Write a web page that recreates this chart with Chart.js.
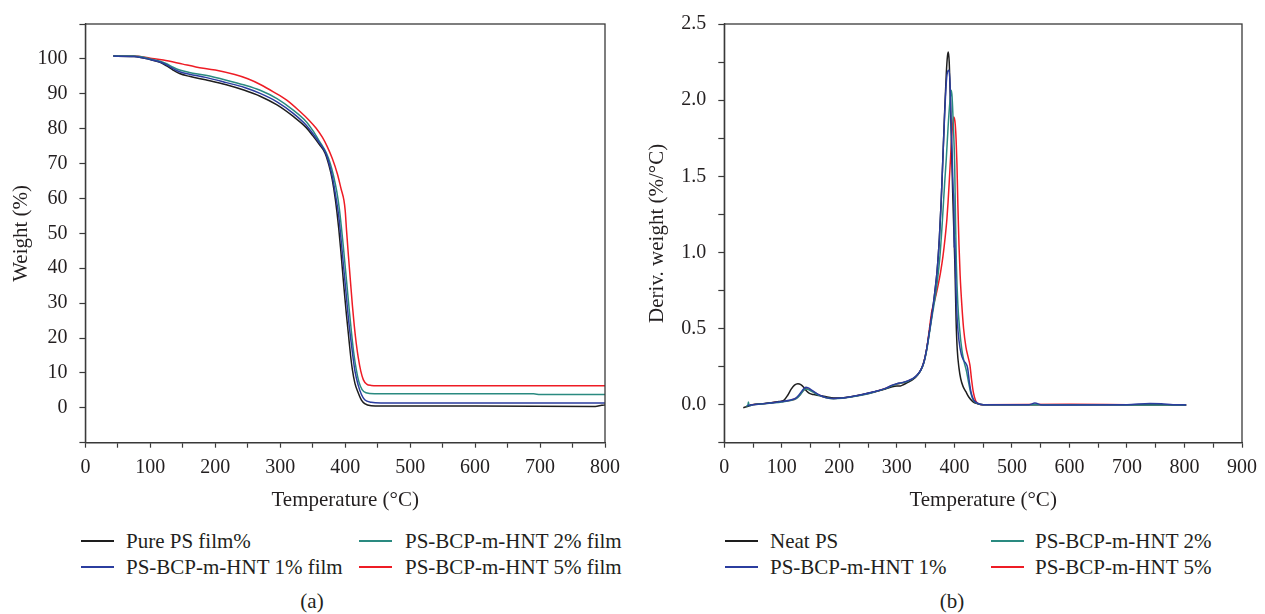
<!DOCTYPE html>
<html>
<head>
<meta charset="utf-8">
<script src="https://cdn.jsdelivr.net/npm/chart.js@4.4.1/dist/chart.umd.min.js"></script>
<style>
  html,body{margin:0;padding:0;background:#fff;}
  body{width:1265px;height:614px;position:relative;overflow:hidden;font-family:"Liberation Serif","DejaVu Serif",serif;color:#231f20;}
  canvas{position:absolute;top:0;}
  #c1{left:0;}
  #c2{left:630px;}
  .leg{position:absolute;height:24px;display:flex;align-items:center;font-size:21px;white-space:nowrap;}
  .leg .ln{position:absolute;height:2px;top:11px;}
  .cap{position:absolute;font-size:21px;transform:translateX(-50%);white-space:nowrap;}
</style>
</head>
<body>
<canvas id="c1" width="630" height="517"></canvas>
<canvas id="c2" width="635" height="517"></canvas>
<script>
// ---------- TGA (a): [temperature °C, weight %] ----------
const tgaPurePS = [[43,100.8],[75,100.7],[100,99.8],[115,99.0],[125,98.0],[135,96.8],[145,95.8],[160,95.0],[185,94.0],[217,92.6],[245,91.0],[269,89.3],[295,86.8],[320,83.5],[340,80.3],[350,78.0],[360,75.5],[369,73.0],[375,69.5],[380,65.5],[385,59.5],[390,51.5],[393,45.5],[396,39],[399,32.5],[402,26.5],[405,21],[408,15.5],[411,11],[415,7],[420,4.3],[425,2.2],[430,1.2],[440,0.6],[455,0.5],[600,0.5],[785,0.4],[795,0.7],[800,0.8]];
const tgaHNT1 = [[43,100.8],[75,100.7],[100,99.8],[115,99.1],[125,98.3],[135,97.2],[145,96.3],[160,95.6],[185,94.7],[217,93.2],[245,91.8],[269,90.1],[295,87.7],[320,84.4],[340,81.0],[350,78.6],[360,76.0],[370,73.0],[376,69.5],[381,65.5],[386,60],[390,55],[393,49.5],[396,43.5],[399,37.5],[402,31.5],[405,25.5],[409,19],[412,14.5],[415,10.5],[420,6.5],[425,3.8],[430,2.3],[440,1.6],[455,1.4],[800,1.4]];
const tgaHNT2 = [[43,100.8],[75,100.8],[100,100.0],[115,99.3],[125,98.6],[135,97.6],[145,96.8],[160,96.1],[185,95.3],[217,93.9],[245,92.5],[269,91.0],[295,88.6],[320,85.3],[340,82.0],[350,79.5],[360,76.5],[371,73.0],[377,70],[382,66.5],[387,62],[391,57],[394,52],[397,46.5],[400,40.5],[403,34.5],[406,28.5],[410,21],[413,16],[417,11],[421,7.5],[426,5.2],[432,4.3],[445,4.0],[690,4.0],[700,3.8],[800,3.8]];
const tgaHNT5 = [[43,100.8],[75,100.8],[100,100.2],[120,99.7],[150,98.5],[170,97.7],[200,96.8],[230,95.5],[250,94.3],[270,92.6],[290,90.5],[310,88.2],[330,85.0],[345,82.3],[355,80.2],[365,77.5],[372,75],[380,71.5],[388,67],[394,62.5],[398,59.5],[400,56.5],[402,51],[405,43.5],[408,36.5],[411,29.5],[414,23.5],[417,18.5],[420,14.5],[424,10.5],[428,8],[433,6.8],[440,6.4],[450,6.3],[800,6.3]];

// ---------- DTG (b): [temperature °C, deriv. weight %/°C] ----------
const dtgNeatPS = [[33,-0.02],[40,-0.012],[50,0.0],[65,0.006],[80,0.012],[95,0.02],[104,0.03],[110,0.06],[116,0.1],[122,0.128],[128,0.137],[133,0.132],[138,0.115],[143,0.09],[148,0.074],[155,0.066],[165,0.06],[177,0.052],[190,0.043],[205,0.044],[220,0.052],[240,0.066],[260,0.083],[280,0.103],[292,0.117],[300,0.122],[306,0.123],[312,0.132],[320,0.148],[328,0.165],[336,0.195],[342,0.23],[347,0.28],[352,0.37],[357,0.49],[362,0.62],[366,0.74],[370,0.88],[374,1.1],[377,1.33],[380,1.62],[383,1.92],[386,2.18],[388,2.29],[389.5,2.316],[391,2.25],[393,2.0],[395,1.7],[397,1.4],[399,1.15],[401,0.9],[403,0.55],[405,0.36],[408,0.24],[411,0.17],[415,0.12],[420,0.085],[425,0.05],[432,0.02],[440,0.006],[450,0.0],[500,0.0],[600,0.0],[700,0.0],[803,-0.002]];
const dtgHNT1 = [[40,-0.005],[50,0.0],[65,0.005],[80,0.011],[100,0.02],[115,0.03],[125,0.045],[130,0.065],[135,0.09],[139,0.108],[142,0.115],[146,0.11],[152,0.095],[160,0.075],[168,0.058],[177,0.046],[190,0.04],[205,0.043],[220,0.052],[240,0.066],[260,0.084],[280,0.107],[292,0.128],[300,0.138],[306,0.143],[312,0.148],[320,0.158],[328,0.172],[336,0.198],[342,0.23],[347,0.28],[352,0.37],[357,0.49],[362,0.62],[366,0.74],[370,0.88],[374,1.1],[377,1.33],[380,1.62],[383,1.9],[386,2.12],[388.5,2.19],[391,2.196],[392.5,2.1],[394,1.9],[396,1.65],[398,1.4],[399.3,1.28],[399.6,1.03],[400.5,1.1],[401.5,0.95],[403,0.72],[405,0.55],[408,0.42],[412,0.33],[416,0.29],[420,0.27],[423,0.24],[426,0.15],[429,0.08],[433,0.035],[440,0.01],[450,0.0],[530,0.0],[540,0.01],[550,0.0],[560,-0.002],[700,0.0],[740,0.008],[760,0.006],[780,0.0],[803,-0.002]];
const dtgHNT2 = [[38,-0.01],[41,-0.005],[42,0.018],[43,-0.008],[50,0.0],[65,0.004],[80,0.01],[100,0.018],[115,0.027],[125,0.04],[131,0.06],[136,0.085],[140,0.1],[143,0.103],[147,0.098],[153,0.085],[160,0.07],[168,0.056],[177,0.045],[190,0.039],[205,0.042],[220,0.05],[240,0.064],[260,0.082],[280,0.105],[292,0.125],[300,0.135],[306,0.14],[312,0.145],[320,0.155],[328,0.17],[336,0.196],[342,0.228],[347,0.275],[352,0.36],[357,0.48],[362,0.6],[366,0.69],[370,0.8],[375,0.98],[379,1.2],[383,1.45],[386,1.62],[389,1.82],[392,1.98],[394.7,2.065],[396,2.02],[398,1.85],[400.5,1.575],[402,1.2],[403.5,0.92],[406,0.66],[409,0.5],[413,0.36],[417,0.28],[421,0.22],[425,0.14],[429,0.07],[433,0.03],[440,0.008],[450,0.0],[600,0.0],[700,-0.002],[803,-0.003]];
const dtgHNT5 = [[45,0.0],[65,0.005],[80,0.011],[100,0.02],[115,0.028],[125,0.042],[131,0.062],[136,0.088],[140,0.1],[143,0.104],[147,0.1],[153,0.088],[160,0.072],[168,0.057],[177,0.046],[190,0.04],[205,0.043],[220,0.051],[240,0.065],[260,0.083],[280,0.106],[292,0.126],[300,0.136],[306,0.141],[312,0.146],[320,0.156],[328,0.17],[336,0.197],[342,0.23],[347,0.28],[352,0.37],[356,0.48],[359,0.57],[361,0.62],[364,0.66],[368,0.72],[372,0.79],[376,0.87],[380,0.97],[384,1.1],[387,1.22],[389,1.33],[391,1.46],[393,1.6],[395,1.74],[397,1.84],[398.7,1.89],[400,1.88],[401.5,1.84],[403,1.74],[404.5,1.575],[406,1.32],[408,1.05],[410,0.85],[413,0.65],[416,0.5],[420,0.38],[424,0.31],[427,0.26],[430,0.16],[433,0.08],[437,0.025],[442,0.005],[450,0.0],[600,0.002],[700,0.0],[803,-0.002]];

// ---------- labels ----------
const tgaLabels = ['Pure PS film%','PS-BCP-m-HNT 1% film','PS-BCP-m-HNT 2% film','PS-BCP-m-HNT 5% film'];
const dtgLabels = ['Neat PS','PS-BCP-m-HNT 1%','PS-BCP-m-HNT 2%','PS-BCP-m-HNT 5%'];
const xTitle = 'Temperature (°C)';
const yTitleA = 'Weight (%)';
const yTitleB = 'Deriv. weight (%/°C)';

const COLORS = ['#1e1e1e','#2b3d9f','#2a8a80','#ee1c25'];
const DRAW_ORDER = [2,0,1,3]; // lower = on top
const FONT = '"Liberation Serif","DejaVu Serif",serif';
const AXIS = '#3a3a3a';
const TEXT = '#231f20';

function toPts(arr){ return arr.map(p => ({x:p[0], y:p[1]})); }

function makeDatasets(series, labels){
  return series.map((s,i) => ({
    label: labels[i],
    data: toPts(s),
    borderColor: COLORS[i],
    backgroundColor: COLORS[i],
    borderWidth: 1.5,
    pointRadius: 0,
    fill: false,
    cubicInterpolationMode: 'monotone',
    order: DRAW_ORDER[i]
  }));
}

const frame = {
  id: 'frame',
  afterDraw(chart){
    const {ctx, chartArea:a} = chart;
    ctx.save();
    ctx.strokeStyle = AXIS;
    ctx.lineWidth = 1.3;
    ctx.strokeRect(a.left, a.top, a.right - a.left, a.bottom - a.top);
    ctx.restore();
  }
};

function makeChart(id, datasets, o){
  return new Chart(document.getElementById(id), {
    type: 'line',
    data: { datasets },
    plugins: [frame],
    options: {
      responsive: false,
      animation: false,
      events: [],
      layout: { padding: { left: o.padLeft, right: o.padRight, top: 22, bottom: 0 } },
      plugins: { legend: { display: false }, tooltip: { enabled: false } },
      scales: {
        x: {
          type: 'linear', min: 0, max: o.xMax,
          afterFit(s){ s.height = 517 - 442.7; },
          border: { display: true, color: AXIS, width: 1.3 },
          grid: { drawOnChartArea: false, drawTicks: true, tickLength: 5, tickColor: AXIS, tickWidth: 1.2 },
          ticks: {
            stepSize: 50, autoSkip: false, maxRotation: 0, padding: 8, color: TEXT,
            font: { family: FONT, size: 20 },
            callback: v => (Math.abs(v % 100) < 1e-6 ? String(v) : '')
          },
          title: { display: true, text: xTitle, color: TEXT, font: { family: FONT, size: 21 }, padding: { top: 4, bottom: 4 } }
        },
        y: {
          type: 'linear', min: o.yMin, max: o.yMax,
          afterFit(s){ s.width = o.yWidth; },
          border: { display: true, color: AXIS, width: 1.3 },
          grid: { drawOnChartArea: false, drawTicks: true, tickLength: 6, tickColor: AXIS, tickWidth: 1.2 },
          ticks: {
            stepSize: o.yStep, autoSkip: false, padding: 12, color: TEXT,
            font: { family: FONT, size: 20 },
            callback: o.yLabel
          },
          title: { display: true, text: o.yTitle, color: TEXT, font: { family: FONT, size: 21 }, padding: { top: 4, bottom: 4 } }
        }
      }
    }
  });
}

const chartA = makeChart('c1', makeDatasets([tgaPurePS, tgaHNT1, tgaHNT2, tgaHNT5], tgaLabels), {
  padLeft: 5, padRight: 25, yWidth: 80.4, xMax: 800,
  yMin: -10, yMax: 110, yStep: 10, yTitle: yTitleA,
  yLabel: v => (v >= 0 && v <= 100 ? String(v) : '')
});

const chartB = makeChart('c2', makeDatasets([dtgNeatPS, dtgHNT1, dtgHNT2, dtgHNT5], dtgLabels), {
  padLeft: 11, padRight: 20, yWidth: 83.3, xMax: 900,
  yMin: -0.25, yMax: 2.5, yStep: 0.25, yTitle: yTitleB,
  yLabel: v => (v > -1e-6 && Math.abs(v * 2 - Math.round(v * 2)) < 1e-6 ? v.toFixed(1) : '')
});

// ---------- HTML legends built from the charts' datasets ----------
function buildLegend(chart, slots){
  chart.data.datasets.forEach((ds, i) => {
    const s = slots[i];
    const d = document.createElement('div');
    d.className = 'leg';
    d.style.left = s.tx + 'px';
    d.style.top = (s.y - 12) + 'px';
    d.textContent = ds.label;
    const ln = document.createElement('span');
    ln.className = 'ln';
    ln.style.left = (s.lx - s.tx) + 'px';
    ln.style.width = '33px';
    ln.style.background = ds.borderColor;
    d.appendChild(ln);
    document.body.appendChild(d);
  });
}
buildLegend(chartA, [
  {lx: 81, tx: 126, y: 541},
  {lx: 81, tx: 126, y: 567},
  {lx: 359, tx: 405, y: 541},
  {lx: 359, tx: 405, y: 567}
]);
buildLegend(chartB, [
  {lx: 725, tx: 770, y: 541},
  {lx: 725, tx: 770, y: 567},
  {lx: 991, tx: 1035, y: 541},
  {lx: 991, tx: 1035, y: 567}
]);

function caption(text, x, y){
  const c = document.createElement('div');
  c.className = 'cap';
  c.style.left = x + 'px';
  c.style.top = (y - 12) + 'px';
  c.textContent = text;
  document.body.appendChild(c);
}
caption('(a)', 312, 601);
caption('(b)', 952, 601);
</script>
</body>
</html>
